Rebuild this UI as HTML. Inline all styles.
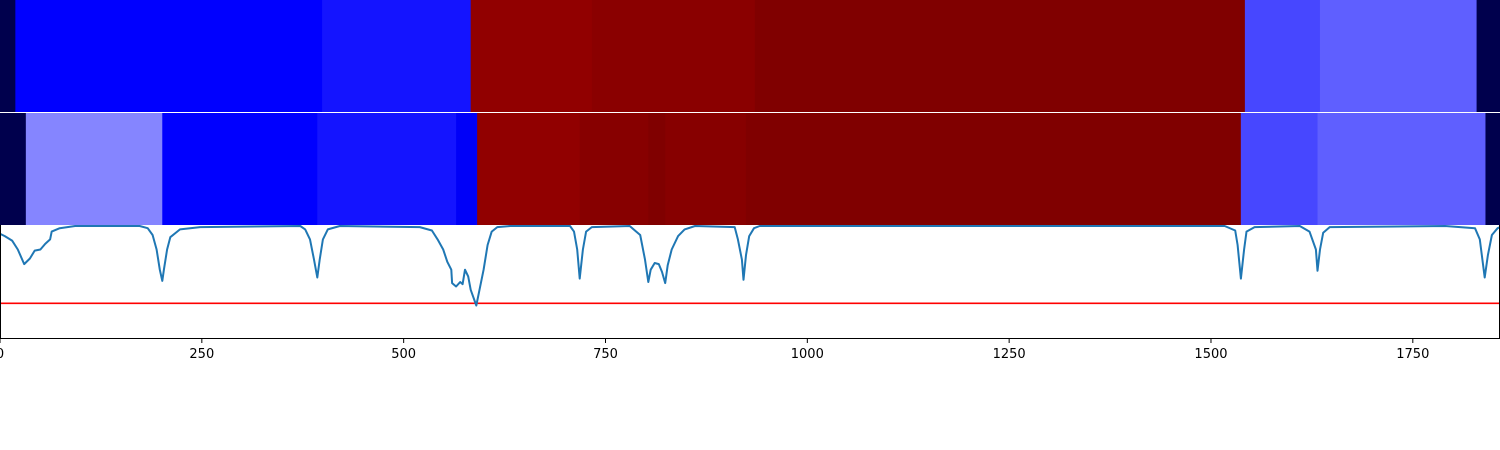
<!DOCTYPE html>
<html><head><meta charset="utf-8"><style>
body{margin:0;background:#fff;}
svg{display:block;font-family:"DejaVu Sans","Liberation Sans",sans-serif;}
</style></head><body>
<svg id="chart" width="1500" height="450" xmlns="http://www.w3.org/2000/svg">
<g id="heat"></g>
<g id="plot"></g>
<g id="axis"></g>
</svg>
<script>
const row1Edges=[0,19,399,583,733,935,1542,1635,1829,1858];
const row1Values=[0,0.25,0.27,0.965,0.98,1.0,0.32,0.343,0];
const row2Edges=[0,32,201,393,565,591,718,803,824,924,1537,1632,1840,1858];
const row2Values=[0,0.38,0.25,0.27,0.24,0.965,0.985,1.0,0.985,1.0,0.32,0.343,0];
const lineX=[0,6,15,22,30,37,43,50,56,62,64,74,93,173,183,189,194,198,201,203,207,211,223,248,372,378,384,389,393,396,400,406,421,520,535,542,549,554,559,560,565,570,573,576,580,583,590,594,599,604,609,616,632,706,711,715,718,722,726,733,780,793,799,803,806,811,816,820,824,827,832,840,848,861,910,914,919,921,924,928,934,941,1517,1530,1533,1537,1541,1544,1554,1610,1622,1630,1632,1635,1639,1647,1790,1827,1833,1839,1843,1848,1855,1858];
const lineY=[0.93,0.91,0.87,0.79,0.66,0.71,0.78,0.79,0.84,0.88,0.95,0.98,1.0,1.0,0.98,0.92,0.79,0.61,0.51,0.61,0.79,0.90,0.97,0.99,1.0,0.97,0.88,0.70,0.54,0.70,0.88,0.97,1.0,0.99,0.96,0.88,0.79,0.68,0.61,0.49,0.46,0.50,0.48,0.61,0.55,0.43,0.29,0.43,0.61,0.83,0.95,0.99,1.0,1.0,0.95,0.79,0.53,0.79,0.95,0.99,1.0,0.92,0.70,0.50,0.61,0.67,0.66,0.59,0.49,0.65,0.79,0.91,0.97,1.0,0.99,0.88,0.70,0.52,0.74,0.91,0.98,1.0,1.0,0.96,0.83,0.53,0.79,0.95,0.99,1.0,0.95,0.79,0.60,0.79,0.94,0.99,1.0,0.98,0.88,0.54,0.74,0.92,0.98,0.99];
const thresholdValue=0.31;
const xTicks=[0,250,500,750,1000,1250,1500,1750];

const X0=0,X1=1500,XMAX=1858;
const sx=v=>X0+v/XMAX*(X1-X0);
const PY0=338,PY1=226;
const sy=v=>PY0-v*(PY0-PY1);
function seismic(t){
  let r,g,b;
  if(t<0.25){const k=t/0.25;r=0;g=0;b=0.3+0.7*k;}
  else if(t<0.5){const k=(t-0.25)/0.25;r=k;g=k;b=1;}
  else if(t<0.75){const k=(t-0.5)/0.25;r=1;g=1-k;b=1-k;}
  else{const k=(t-0.75)/0.25;r=1-0.5*k;g=0;b=0;}
  return `rgb(${Math.round(r*255)},${Math.round(g*255)},${Math.round(b*255)})`;
}
const NS="http://www.w3.org/2000/svg";
function mk(tag,attrs,parent){const e=document.createElementNS(NS,tag);for(const k in attrs)e.setAttribute(k,attrs[k]);parent.appendChild(e);return e;}
const heat=document.getElementById('heat');
function drawRow(edges,vals,y,h,name){
  for(let i=0;i<vals.length;i++){
    const x=sx(edges[i]),w=sx(edges[i+1])-x;
    const r=mk('rect',{x:x,y:y,width:w+0.5,height:h,fill:seismic(vals[i])},heat);
    
    
  }
}
drawRow(row1Edges,row1Values,0,112,'row1');
drawRow(row2Edges,row2Values,113,112,'row2');
const plot=document.getElementById('plot');
const th=mk('line',{x1:0,x2:1500,y1:sy(thresholdValue),y2:sy(thresholdValue),stroke:'#ff0000','stroke-width':1.6},plot);


let d='';
for(let i=0;i<lineX.length;i++)d+=(i?'L':'M')+sx(lineX[i]).toFixed(1)+','+sy(lineY[i]).toFixed(1);
const p=mk('path',{d:d,fill:'none',stroke:'#1f77b4','stroke-width':2,'stroke-linejoin':'round'},plot);


const ax=document.getElementById('axis');
mk('line',{x1:0,x2:1500,y1:338.5,y2:338.5,stroke:'#000','stroke-width':1},ax);
mk('line',{x1:0.5,x2:0.5,y1:225,y2:338,stroke:'#000','stroke-width':1},ax);
mk('line',{x1:1499.5,x2:1499.5,y1:225,y2:338,stroke:'#000','stroke-width':1},ax);
xTicks.forEach(t=>{
  const x=sx(t);
  mk('line',{x1:x,x2:x,y1:338,y2:343,stroke:'#000','stroke-width':1},ax);
  const tx=mk('text',{x:x,y:358,'font-size':13,'text-anchor':'middle',fill:'#000'},ax);
  tx.textContent=t;
  
  
});
</script>
</body></html>
